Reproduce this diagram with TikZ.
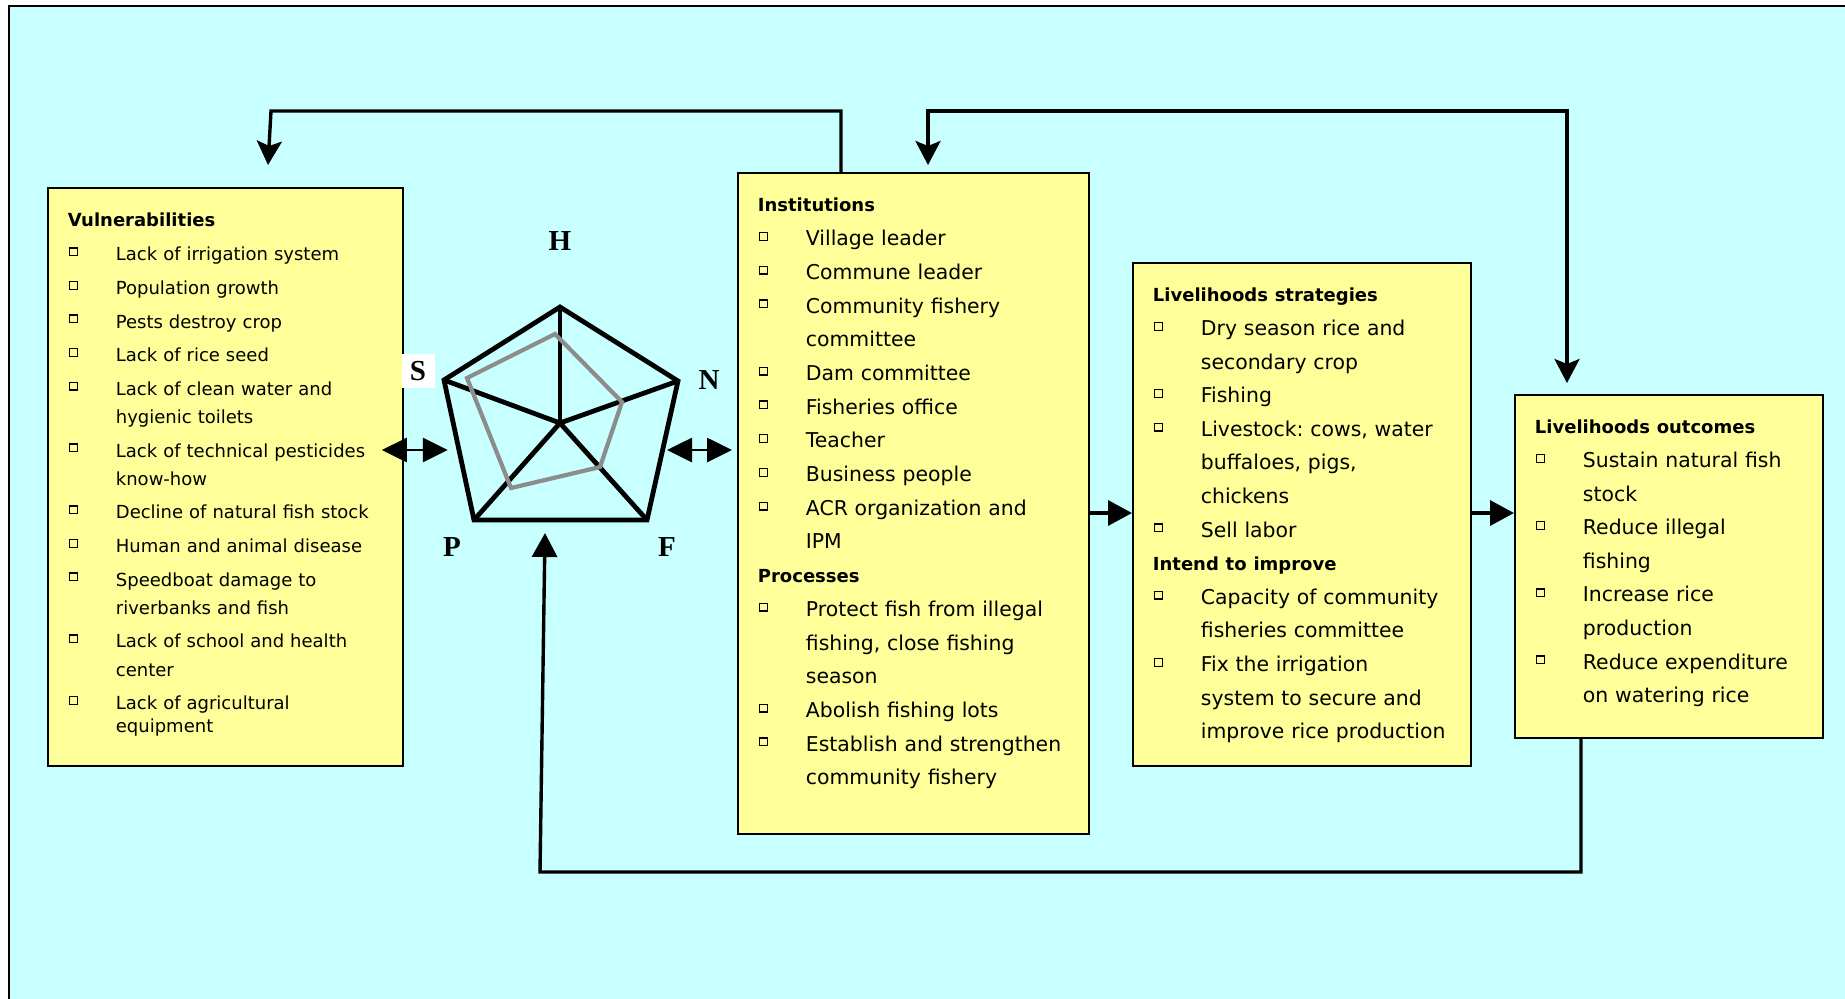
\documentclass[tikz,border=0pt]{standalone}
\usepackage{fontspec}
\setmainfont{DejaVu Sans}
\newfontfamily\axisfont{Liberation Serif}
\usepackage{xcolor}
\usetikzlibrary{arrows.meta,calc}
\frenchspacing

\definecolor{skyback}{RGB}{200,255,255}
\definecolor{notefill}{RGB}{255,255,153}
\definecolor{scoregray}{RGB}{140,140,140}

\newcommand{\sqbul}{\raisebox{3pt}{\setlength{\fboxsep}{0pt}\setlength{\fboxrule}{0.65pt}\fbox{\rule{0pt}{3.2pt}\rule{3.2pt}{0pt}}}}
\newcommand{\bitem}[1]{\makebox[24pt][l]{\hspace{0.5pt}\sqbul}\mbox{#1}}
\newcommand{\bcont}[1]{\hspace*{24pt}\mbox{#1}}
\newcommand{\bhead}[1]{{\fontsize{9}{14}\selectfont\bfseries #1}}

\begin{document}
\begin{tikzpicture}[x=0.5pt,y=-0.5pt,
	box/.style={draw=black,line width=0.9pt,fill=notefill,anchor=north west,align=left,inner xsep=10pt,inner ysep=0pt,text height=19.5pt},
	link/.style={line width=1.7pt,>={Triangle[length=12pt,width=12.5pt]}},
	spoke/.style={line width=2.4pt},
	twoway/.style={line width=1.4pt,>={Triangle[length=12.5pt,width=12pt]},<->},
	axis/.style={font=\axisfont\bfseries\fontsize{14.5}{14.5}\selectfont,inner sep=0pt}]
	\useasboundingbox (0,0) rectangle (1845,998);
	\fill[skyback] (9,6) rectangle (1860,1010);
	\draw[line width=1pt] (9,1010) -- (9,6) -- (1860,6);

	\node[box,text width=157.5pt,text depth=269.5pt,font=\fontsize{9}{14.1}\selectfont] (vuln) at (47,187) {\bhead{Vulnerabilities}\\[2.9pt]
		\bitem{Lack of irrigation system}\\[2.7pt]
		\bitem{Population growth}\\[2.7pt]
		\bitem{Pests destroy crop}\\[2.7pt]
		\bitem{Lack of rice seed}\\[2.7pt]
		\bitem{Lack of clean water and}\\
		\bcont{hygienic toilets}\\[2.7pt]
		\bitem{Lack of technical pesticides}\\
		\bcont{know-how}\\[2.7pt]
		\bitem{Decline of natural fish stock}\\[2.7pt]
		\bitem{Human and animal disease}\\[2.7pt]
		\bitem{Speedboat damage to}\\
		\bcont{riverbanks and fish}\\[2.7pt]
		\bitem{Lack of school and health}\\
		\bcont{center}\\[2.7pt]
		\bitem{Lack of agricultural}\\[-2.9pt]
		\bcont{equipment}};

	\node[box,text width=155.5pt,text depth=311pt,font=\fontsize{10.2}{16.85}\selectfont] (inst) at (737,172) {\bhead{Institutions}\\
		\bitem{Village leader}\\
		\bitem{Commune leader}\\
		\bitem{Community fishery}\\
		\bcont{committee}\\
		\bitem{Dam committee}\\
		\bitem{Fisheries office}\\
		\bitem{Teacher}\\
		\bitem{Business people}\\
		\bitem{ACR organization and}\\
		\bcont{IPM}\\
		\bhead{Processes}\\
		\bitem{Protect fish from illegal}\\
		\bcont{fishing, close fishing}\\
		\bcont{season}\\
		\bitem{Abolish fishing lots}\\
		\bitem{Establish and strengthen}\\
		\bcont{community fishery}};

	\node[box,text width=149pt,text depth=232pt,font=\fontsize{10.2}{16.8}\selectfont] (ls) at (1132,262) {\bhead{Livelihoods strategies}\\
		\bitem{Dry season rice and}\\
		\bcont{secondary crop}\\
		\bitem{Fishing}\\
		\bitem{Livestock: cows, water}\\
		\bcont{buffaloes, pigs,}\\
		\bcont{chickens}\\
		\bitem{Sell labor}\\
		\bhead{Intend to improve}\\
		\bitem{Capacity of community}\\
		\bcont{fisheries committee}\\
		\bitem{Fix the irrigation}\\
		\bcont{system to secure and}\\
		\bcont{improve rice production}};

	\node[box,text width=134pt,text depth=152pt,font=\fontsize{10.2}{16.8}\selectfont] (out) at (1514,394) {\bhead{Livelihoods outcomes}\\
		\bitem{Sustain natural fish}\\
		\bcont{stock}\\
		\bitem{Reduce illegal}\\
		\bcont{fishing}\\
		\bitem{Increase rice}\\
		\bcont{production}\\
		\bitem{Reduce expenditure}\\
		\bcont{on watering rice}};

	\coordinate (ph) at (560,307);
	\coordinate (pn) at (678,381);
	\coordinate (pf) at (647,520);
	\coordinate (pp) at (474,520);
	\coordinate (ps) at (444,380);
	\coordinate (pc) at (560,423);
	\draw[spoke] (ph) -- (pn) -- (pf) -- (pp) -- (ps) -- cycle;
	\foreach \v in {ph,pn,pf,pp,ps}
		\draw[spoke] (pc) -- (\v);
	\draw[line width=2.1pt,scoregray] (555,334) -- (622,402) -- (600,467) -- (511,488) -- (467,378) -- cycle;

	\node[axis] (lh) at (560,241) {H};
	\node[axis] (ln) at (709,380) {N};
	\node[axis] (lp) at (452,547) {P};
	\node[axis] (lf) at (667,547) {F};
	\node[axis,fill=white,minimum width=16.5pt,minimum height=17pt] (ls0) at (418,371) {S};

	\coordinate (tl) at (271,111);
	\coordinate (tr) at (1567,111);
	\coordinate (bl) at (540,872);
	\coordinate (pin) at (545,533);

	\draw[link,-{Stealth[length=12pt,width=12.5pt,inset=2.5pt]}] ($(inst.north west)+(104,0)$) |- (tl) -- ($(vuln.north west)+(221,-22)$);
	\draw[link,{Stealth[length=12pt,width=12.5pt,inset=2.5pt]}-{Stealth[length=12pt,width=12.5pt,inset=2.5pt]}] ($(inst.north west)+(191,-7)$) |- (tr) -- ($(out.north west)+(53,-11)$);
	\draw[link,->] ($(out.south west)+(67,0)$) |- (bl) -- (pin);
	\draw[link,->] ($(inst.north east)+(0,341)$) -- ($(ls.north west)+(0,251)$);
	\draw[link,->] ($(ls.north east)+(0,251)$) -- ($(out.north west)+(0,119)$);

	\draw[twoway] ($(vuln.north east)+(-22,263)$) -- +(66,0);
	\draw[twoway] ($(inst.north west)+(-70,278)$) -- +(65,0);
\end{tikzpicture}
\end{document}
